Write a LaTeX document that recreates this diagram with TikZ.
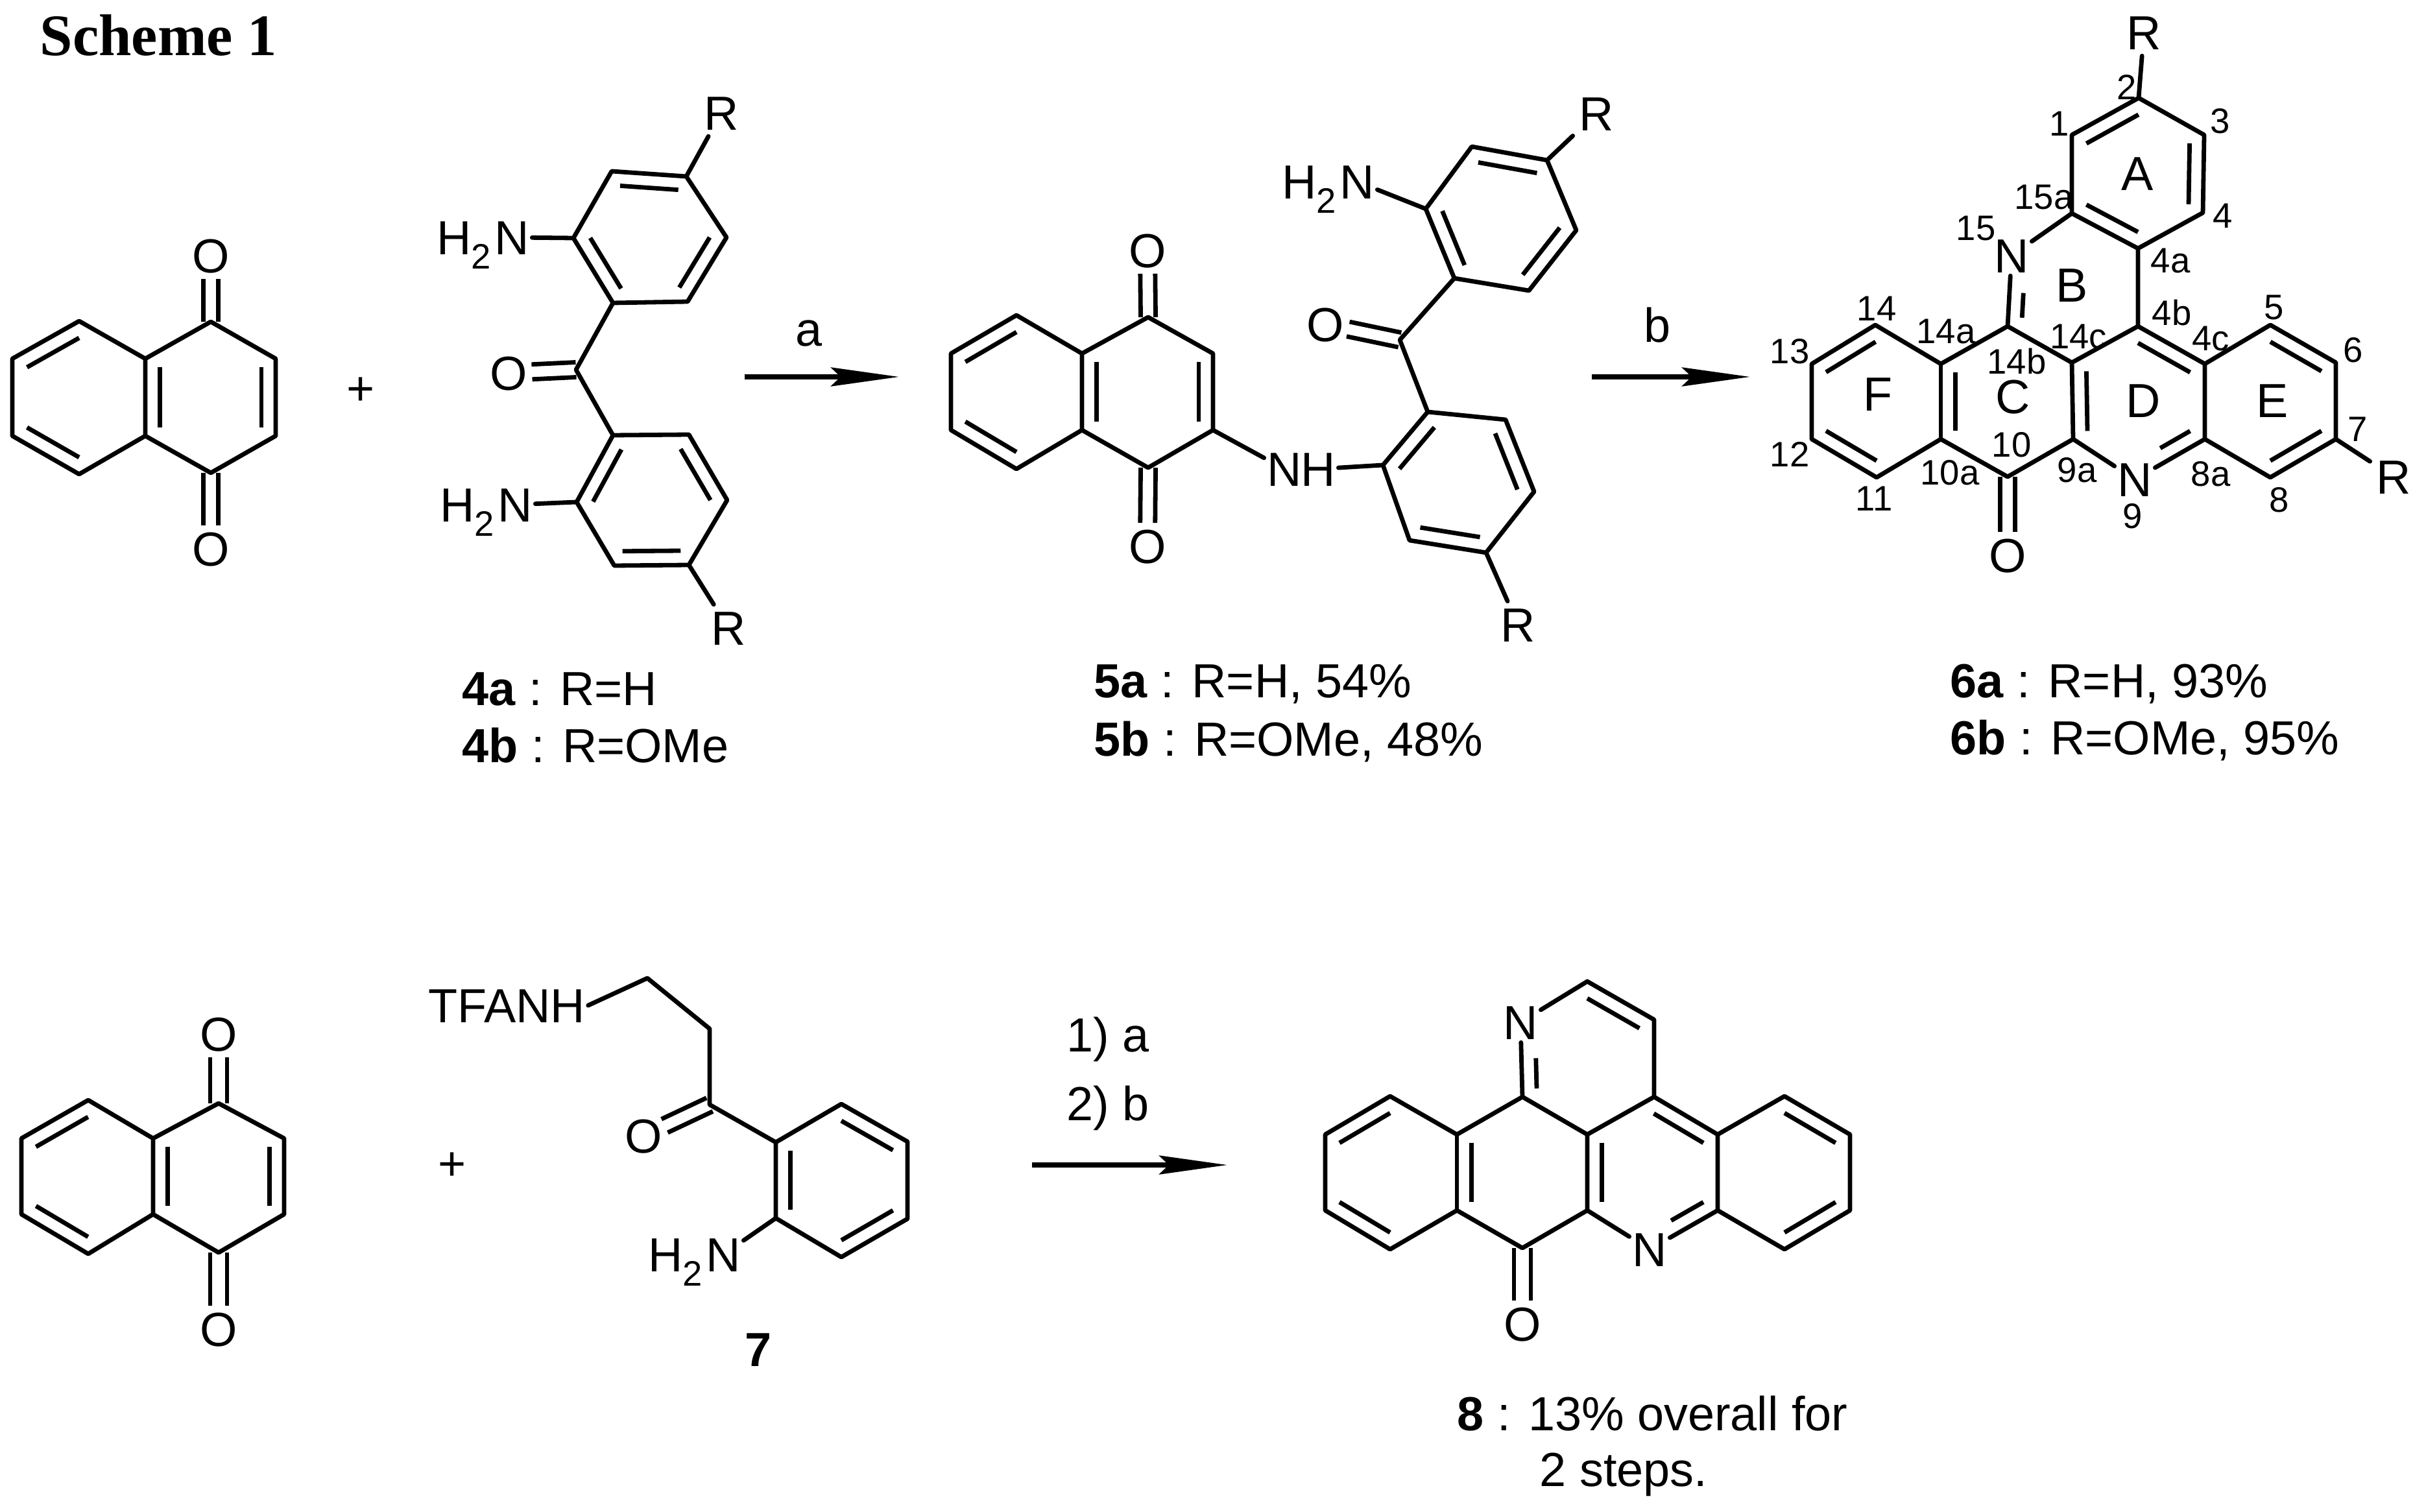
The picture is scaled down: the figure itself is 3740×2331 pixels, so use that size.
\documentclass[tikz,border=0pt]{standalone}
\usepackage{fontspec}
\setmainfont{Liberation Sans}
\newfontfamily\schemefont{Liberation Serif}
\usetikzlibrary{calc,arrows.meta}
\tikzset{
  bond/.style={line width=0.68mm,line cap=round,line join=round,black},
  inner/.style={line width=0.68mm,line cap=butt,black},
  rxn/.style={line width=0.75mm,-{Stealth[length=10.5mm,width=2.9mm,inset=1.5mm]}},
  atom/.style={font=\fontsize{21}{25}\selectfont,inner sep=0.4mm,text height=5.3mm,text depth=0pt},
  rgroup/.style={atom,inner sep=0.9mm},
  txt/.style={font=\fontsize{21}{25}\selectfont,inner sep=0pt,anchor=base west},
  num/.style={font=\fontsize{15.5}{18}\selectfont,inner sep=0pt},
  ringlab/.style={font=\fontsize{21}{25}\selectfont,inner sep=0pt},
}
\newcommand{\subtwo}{\smash{\raisebox{-2.2mm}{\fontsize{15.5}{16}\selectfont 2}}}
% inner line of a ring double bond: atoms #1,#2, ring centre #3
\newcommand{\rdb}[3]{\draw[inner] ($(#1)!0.22!(#3)$) -- ($(#2)!0.22!(#3)$);}
% inner line of a ring C=N: carbon #1, nitrogen #2, ring centre #3, stop short by #4
\newcommand{\rdn}[4]{\draw[inner,shorten >=#4] ($(#1)!0.22!(#3)$) -- ($(#2)!0.22!(#3)$);}
% carbonyl: carbon #1, oxygen node #2, half spacing #3
\newcommand{\cdb}[3]{%
  \draw[inner,shorten >=3.6mm] ($(#1)!#3!90:(#2)$) -- ($(#2)!#3!-90:(#1)$);
  \draw[inner,shorten >=3.6mm] ($(#1)!#3!-90:(#2)$) -- ($(#2)!#3!90:(#1)$);}
\begin{document}
\begin{tikzpicture}[x=0.1mm,y=-0.1mm]
\useasboundingbox (0,0) rectangle (3740,2331);
\fill[white] (0,0) rectangle (3740,2331);

\node[font=\schemefont\bfseries\fontsize{25.8}{30}\selectfont,inner sep=0pt,anchor=base west] (title) at (61,86) {Scheme 1};

%% --- naphthoquinone (top)
\foreach \n/\x/\y in {a1/19/553,a2/122/495,a3/224/553,a4/224/672,a5/122/731,a6/19/672,a7/325/496,a8/425/553,a9/425/672,a10/325/729,aL/122/613,aR/325/613}
  \coordinate (\n) at (\x,\y);
\draw[bond] (a1)--(a2)--(a3)--(a4)--(a5)--(a6)--cycle;
\draw[bond] (a3)--(a7)--(a8)--(a9)--(a10)--(a4);
\rdb{a1}{a2}{aL}\rdb{a5}{a6}{aL}\rdb{a3}{a4}{aR}\rdb{a8}{a9}{aR}
\node[atom] (aO1) at (325,394) {O};
\node[atom] (aO2) at (325,846) {O};
\cdb{a7}{aO1}{1.15mm}\cdb{a10}{aO2}{1.15mm}
\node[ringlab] (plus1) at (556,603) {+};

%% --- ketone 4
\foreach \n/\x/\y in {b1/943/264,b2/1058/272,b3/1120/366,b4/1060/465,b5/945/467,b6/884/367,bT/1002/366,bC/888/570,
  c1/945/671,c2/1062/670,c3/1121/771,c4/1062/871,c5/947/872,c6/889/774,cT/1004/771}
  \coordinate (\n) at (\x,\y);
\draw[bond] (b1)--(b2)--(b3)--(b4)--(b5)--(b6)--cycle;
\draw[bond] (c1)--(c2)--(c3)--(c4)--(c5)--(c6)--cycle;
\draw[bond] (b5)--(bC)--(c1);
\rdb{b1}{b2}{bT}\rdb{b3}{b4}{bT}\rdb{b5}{b6}{bT}
\rdb{c1}{c6}{cT}\rdb{c2}{c3}{cT}\rdb{c4}{c5}{cT}
\node[atom] (bO) at (784,575) {O};
\cdb{bC}{bO}{1.15mm}
\node[rgroup] (bR) at (1112,174) {R};
\node[rgroup] (cR) at (1123,968) {R};
\draw[bond] (b2)--(bR);
\draw[bond] (c4)--(cR);
\node[atom] (bN) at (789,366) {N};
\node[atom,anchor=east,inner sep=0pt] (bH) at (bN.west) {H\subtwo};
\node[atom] (cN) at (794,778) {N};
\node[atom,anchor=east,inner sep=0pt] (cH) at (cN.west) {H\subtwo};
\draw[bond] (bN)--(b6);
\draw[bond] (cN)--(c6);
\node[txt] (l4a) at (712,1087) {\textbf{4a} : R=H};
\node[txt] (l4b) at (712,1175) {\textbf{4b} : R=OMe};

%% --- arrow a
\coordinate (ra0) at (1148,581);
\coordinate (ra1) at (1386,581);
\draw[rxn] (ra0)--(ra1);
\node[ringlab] (la) at (1247,514) {a};

%% --- compound 5
\foreach \n/\x/\y in {d1/1466/545,d2/1567/486,d3/1668/545,d4/1668/663,d5/1567/723,d6/1466/663,d7/1770/489,d8/1870/545,d9/1870/663,d10/1770/721,dL/1567/604,dR/1770/604,
  e1/2132/717,e2/2201/635,e3/2321/647,e4/2365/758,e5/2291/852,e6/2173/833,eT/2248/743,eC/2158/524,
  f1/2242/429,f2/2198/322,f3/2269/226,f4/2385/247,f5/2430/355,f6/2357/448,fT/2314/337}
  \coordinate (\n) at (\x,\y);
\draw[bond] (d1)--(d2)--(d3)--(d4)--(d5)--(d6)--cycle;
\draw[bond] (d3)--(d7)--(d8)--(d9)--(d10)--(d4);
\rdb{d1}{d2}{dL}\rdb{d5}{d6}{dL}\rdb{d3}{d4}{dR}\rdb{d8}{d9}{dR}
\node[atom] (dO1) at (1769,386) {O};
\node[atom] (dO2) at (1769,842) {O};
\cdb{d7}{dO1}{1.15mm}\cdb{d10}{dO2}{1.15mm}
\node[atom] (dN) at (1980,723) {N};
\node[atom] (dH) at (2032,723) {H};
\draw[bond] (d9)--(dN);
\draw[bond] (dH)--(e1);
\draw[bond] (e1)--(e2)--(e3)--(e4)--(e5)--(e6)--cycle;
\draw[bond] (f1)--(f2)--(f3)--(f4)--(f5)--(f6)--cycle;
\draw[bond] (e2)--(eC)--(f1);
\rdb{e1}{e2}{eT}\rdb{e3}{e4}{eT}\rdb{e5}{e6}{eT}
\rdb{f1}{f2}{fT}\rdb{f3}{f4}{fT}\rdb{f5}{f6}{fT}
\node[atom] (eO) at (2043,500) {O};
\cdb{eC}{eO}{1.15mm}
\node[rgroup] (eR) at (2340,963) {R};
\node[rgroup] (fR) at (2461,175) {R};
\draw[bond] (e5)--(eR);
\draw[bond] (f4)--(fR);
\node[atom] (fN) at (2092,280) {N};
\node[atom,anchor=east,inner sep=0pt] (fH) at (fN.west) {H\subtwo};
\draw[bond] (fN)--(f2);
\node[txt] (l5a) at (1686,1075) {\textbf{5a} : R=H, 54\%};
\node[txt] (l5b) at (1686,1165) {\textbf{5b} : R=OMe, 48\%};

%% --- arrow b
\coordinate (rb0) at (2454,581);
\coordinate (rb1) at (2698,581);
\draw[rxn] (rb0)--(rb1);
\node[ringlab] (lb) at (2555,501) {b};

%% --- compound 6
\foreach \n/\x/\y in {g2/3297/151,g3/3398/208,g4/3396/328,g4a/3296/383,g15a/3194/329,g1/3194/208,
  g4b/3296/503,g14c/3194/559,g14b/3095/503,g14a/2992/561,g14/2891/501,g13/2793/561,g12/2793/677,g11/2893/736,g10a/2992/677,g10/3095/735,g9a/3196/677,g4c/3399/561,g8a/3399/677,g5/3500/501,g6/3601/559,g7/3601/677,g8/3500/736,
  cA/3296/268,cB/3196/443,cC/3095/619,cD/3296/620,cE/3500/619,cF/2893/619}
  \coordinate (\n) at (\x,\y);
\draw[bond] (g2)--(g3)--(g4)--(g4a)--(g15a)--(g1)--cycle;
\draw[bond] (g4a)--(g4b)--(g14c)--(g14b)--(g14a)--(g14)--(g13)--(g12)--(g11)--(g10a)--(g10)--(g9a)--(g14c);
\draw[bond] (g14a)--(g10a);
\draw[bond] (g4b)--(g4c)--(g8a);
\draw[bond] (g4c)--(g5)--(g6)--(g7)--(g8)--(g8a);
\rdb{g1}{g2}{cA}\rdb{g3}{g4}{cA}\rdb{g15a}{g4a}{cA}
\rdb{g4b}{g4c}{cD}\rdb{g14c}{g9a}{cD}\rdb{g14a}{g10a}{cC}
\rdb{g14}{g13}{cF}\rdb{g12}{g11}{cF}\rdb{g5}{g6}{cE}\rdb{g7}{g8}{cE}
\node[atom] (gN15) at (3101,394) {N};
\node[atom] (gN9) at (3291,739) {N};
\draw[bond] (gN15)--(g15a);
\draw[bond] (gN15)--(g14b);
\rdn{g14b}{gN15}{cB}{4.7mm}
\draw[bond] (g9a)--(gN9);
\draw[bond] (gN9)--(g8a);
\rdn{g8a}{gN9}{cD}{4.4mm}
\node[atom] (gO) at (3095,856) {O};
\cdb{g10}{gO}{1.15mm}
\node[rgroup] (gR1) at (3305,50) {R};
\node[rgroup] (gR2) at (3690,735) {R};
\draw[bond] (g2)--(gR1);
\draw[bond] (g7)--(gR2);
\foreach \n/\x/\y/\t in {A/3295/268/A,B/3194/440/B,C/3103/612/C,D/3304/618/D,E/3503/618/E,F/2895/608/F}
  \node[ringlab] (ring\n) at (\x,\y) {\t};
\foreach \n/\x/\y/\t in {n2/3279/134/2,n1/3175/191/1,n3/3423/187/3,n4/3427/333/4,n15a/3151/304/15a,n15/3046/352/15,n4a/3346/402/4a,n4b/3348/482/4b,n5/3506/474/5,n4c/3408/522/4c,n6/3628/540/6,n14/2893/476/14,n14a/3000/511/14a,n14c/3204/519/14c,n14b/3109/557/14b,n13/2759/542/13,n7/3635/662/7,n12/2759/700/12,n10/3101/686/10,n10a/3006/729/10a,n9a/3202/725/9a,n8a/3408/731/8a,n8/3514/771/8,n11/2889/769/11,n9/3288/796/9}
  \node[num] (\n) at (\x,\y) {\t};
\node[txt] (l6a) at (3006,1075) {\textbf{6a} : R=H, 93\%};
\node[txt] (l6b) at (3006,1163) {\textbf{6b} : R=OMe, 95\%};

%% --- naphthoquinone (bottom)
\foreach \n/\x/\y in {h1/33/1755,h2/136/1696,h3/236/1755,h4/236/1872,h5/136/1933,h6/33/1872,h7/337/1701,h8/438/1755,h9/438/1872,h10/337/1931,hL/135/1814,hR/337/1815}
  \coordinate (\n) at (\x,\y);
\draw[bond] (h1)--(h2)--(h3)--(h4)--(h5)--(h6)--cycle;
\draw[bond] (h3)--(h7)--(h8)--(h9)--(h10)--(h4);
\rdb{h1}{h2}{hL}\rdb{h5}{h6}{hL}\rdb{h3}{h4}{hR}\rdb{h8}{h9}{hR}
\node[atom] (hO1) at (337,1594) {O};
\node[atom] (hO2) at (337,2049) {O};
\cdb{h7}{hO1}{1.3mm}\cdb{h10}{hO2}{1.3mm}
\node[ringlab] (plus2) at (697,1798) {+};

%% --- compound 7
\foreach \n/\x/\y in {i1/998/1508,i2/1094/1586,i3/1094/1703,j1/1196/1761,j2/1297/1702,j3/1399/1760,j4/1399/1879,j5/1297/1938,j6/1196/1878,jT/1297/1820}
  \coordinate (\n) at (\x,\y);
\node[atom,inner sep=0.4mm] (tfa) at (781,1550) {TFANH};
\draw[bond] (tfa.east)--(i1)--(i2)--(i3)--(j1);
\draw[bond] (j1)--(j2)--(j3)--(j4)--(j5)--(j6)--cycle;
\rdb{j2}{j3}{jT}\rdb{j4}{j5}{jT}\rdb{j1}{j6}{jT}
\node[atom] (iO) at (992,1751) {O};
\cdb{i3}{iO}{1.15mm}
\node[atom] (jN) at (1115,1934) {N};
\node[atom,anchor=east,inner sep=0pt] (jH) at (jN.west) {H\subtwo};
\draw[bond] (jN)--(j6);
\node[txt,anchor=center,font=\bfseries\fontsize{21}{25}\selectfont] (l7) at (1169,2081) {7};

%% --- arrow 1) a 2) b
\coordinate (rc0) at (1591,1796);
\coordinate (rc1) at (1892,1796);
\draw[rxn] (rc0)--(rc1);
\node[txt] (s1) at (1644,1621) {1) a};
\node[txt] (s2) at (1644,1727) {2) b};

%% --- compound 8
\foreach \n/\x/\y in {k1/2447/1513,k2/2550/1572,k3/2550/1691,k4/2347/1691,k5/2447/1749,k6/2246/1749,k7/2143/1690,k8/2043/1749,k9/2043/1866,k10/2143/1926,k11/2246/1866,k12/2347/1924,k13/2447/1866,k14/2648/1866,k15/2648/1749,k16/2751/1690,k17/2852/1749,k18/2852/1866,k19/2751/1926,
  kA/2447/1632,kB/2347/1808,kD/2548/1808,kE/2751/1808,kF/2143/1808}
  \coordinate (\n) at (\x,\y);
\draw[bond] (k1)--(k2)--(k3)--(k5)--(k4)--(k6)--(k7)--(k8)--(k9)--(k10)--(k11)--(k12)--(k13)--(k5);
\draw[bond] (k6)--(k11);
\draw[bond] (k3)--(k15)--(k14);
\draw[bond] (k15)--(k16)--(k17)--(k18)--(k19)--(k14);
\rdb{k1}{k2}{kA}\rdb{k3}{k15}{kD}\rdb{k5}{k13}{kD}\rdb{k6}{k11}{kB}
\rdb{k7}{k8}{kF}\rdb{k9}{k10}{kF}\rdb{k16}{k17}{kE}\rdb{k18}{k19}{kE}
\node[atom] (kN1) at (2344,1576) {N};
\node[atom] (kN2) at (2543,1926) {N};
\draw[bond] (kN1)--(k1);
\draw[bond] (kN1)--(k4);
\rdn{k4}{kN1}{kA}{4.3mm}
\draw[bond] (k13)--(kN2);
\draw[bond] (kN2)--(k14);
\rdn{k14}{kN2}{kD}{3.7mm}
\node[atom] (kO) at (2347,2041) {O};
\cdb{k12}{kO}{1.3mm}
\node[txt] (l8a) at (2246,2205) {\textbf{8} : 13\% overall for};
\node[txt] (l8b) at (2373,2291) {2 steps.};
\end{tikzpicture}
\end{document}
